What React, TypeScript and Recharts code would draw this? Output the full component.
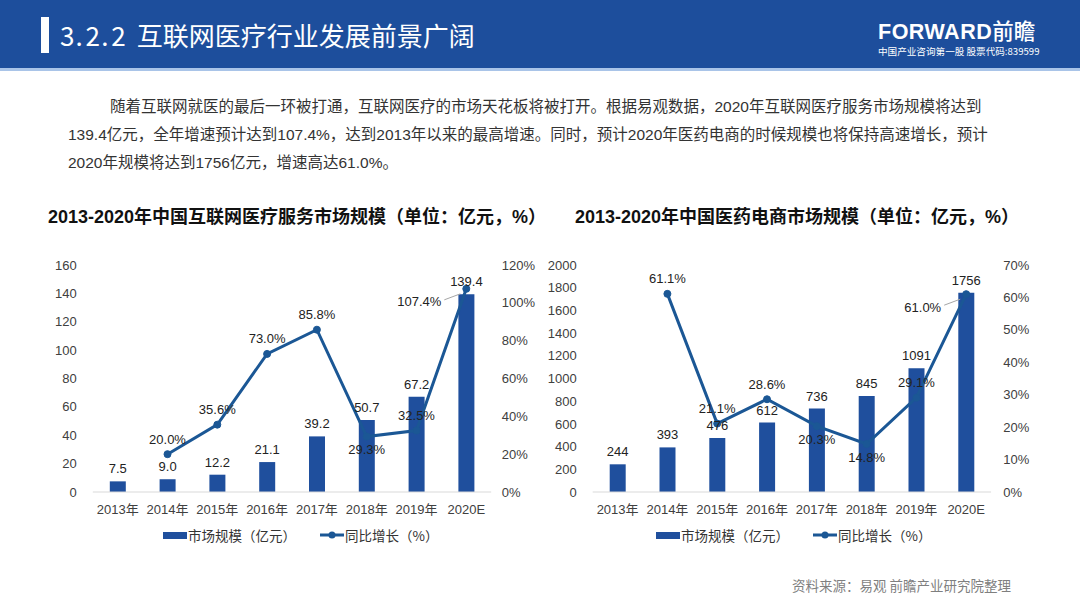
import React from 'react';
import { ComposedChart, Bar, Line, XAxis, YAxis, LabelList } from 'recharts';

// Categories shared by both charts
const years = ['2013年', '2014年', '2015年', '2016年', '2017年', '2018年', '2019年', '2020E'];

// 互联网医疗服务市场规模（亿元）与同比增长（%）
const serviceScale = [7.5, 9.0, 12.2, 21.1, 39.2, 50.7, 67.2, 139.4];
const serviceGrowth: (number | null)[] = [null, 20.0, 35.6, 73.0, 85.8, 29.3, 32.5, 107.4];
const serviceScaleTicks = [0, 20, 40, 60, 80, 100, 120, 140, 160];
const serviceGrowthTicks = [0, 20, 40, 60, 80, 100, 120];

// 医药电商市场规模（亿元）与同比增长（%）
const pharmaScale = [244, 393, 476, 612, 736, 845, 1091, 1756];
const pharmaGrowth: (number | null)[] = [null, 61.1, 21.1, 28.6, 20.3, 14.8, 29.1, 61.0];
const pharmaScaleTicks = [0, 200, 400, 600, 800, 1000, 1200, 1400, 1600, 1800, 2000];
const pharmaGrowthTicks = [0, 10, 20, 30, 40, 50, 60, 70];

const HEADER_BLUE = '#1d4e9c';
const BAR_BLUE = '#1f4f9d';
const LINE_BLUE = '#1b5795';
const FONT = "'Liberation Sans', Arial, 'Noto Sans CJK SC', sans-serif";
const CJK_FONT = "'Noto Sans CJK SC', 'Liberation Sans', sans-serif";

type ChartCfg = {
  left: number;
  scale: number[];
  growth: (number | null)[];
  scaleTicks: number[];
  growthTicks: number[];
  decimals: number;
  margin: { top: number; right: number; bottom: number; left: number };
  leftTickMargin: number;
  rightTickMargin: number;
  below: string[];
  aside: string[];
};

const serviceCfg: ChartCfg = {
  left: 0,
  scale: serviceScale,
  growth: serviceGrowth,
  scaleTicks: serviceScaleTicks,
  growthTicks: serviceGrowthTicks,
  decimals: 1,
  margin: { top: 25, right: 8.8, bottom: 8, left: 32.8 },
  leftTickMargin: 10,
  rightTickMargin: 4.5,
  below: ['2018年'],
  aside: ['2020E'],
};

const pharmaCfg: ChartCfg = {
  left: 520,
  scale: pharmaScale,
  growth: pharmaGrowth,
  scaleTicks: pharmaScaleTicks,
  growthTicks: pharmaGrowthTicks,
  decimals: 0,
  margin: { top: 25, right: 28.9, bottom: 8, left: 12.7 },
  leftTickMargin: 10,
  rightTickMargin: 6.2,
  below: ['2017年', '2018年'],
  aside: ['2020E'],
};

const num = (v: any) => (typeof v === 'number' ? v : Number(v));

function MarketChart({ cfg }: { cfg: ChartCfg }) {
  const data = years.map((year, i) => ({ year, scale: cfg.scale[i], growth: cfg.growth[i] }));
  const scaleMax = cfg.scaleTicks[cfg.scaleTicks.length - 1];
  const growthMax = cfg.growthTicks[cfg.growthTicks.length - 1];

  const renderBarLabel = (p: any) => {
    const x = num(p.x ?? p.viewBox?.x);
    const y = num(p.y ?? p.viewBox?.y);
    const w = num(p.width ?? p.viewBox?.width);
    if (p.value == null || isNaN(x)) return null;
    return (
      <text x={x + w / 2} y={y - 12.5} dy="0.35em" textAnchor="middle" fontSize={13} fill="#222">
        {num(p.value).toFixed(cfg.decimals)}
      </text>
    );
  };

  const renderGrowthLabel = (p: any) => {
    const x = num(p.x ?? p.viewBox?.x);
    const y = num(p.y ?? p.viewBox?.y);
    if (p.value == null || isNaN(x) || isNaN(y)) return null;
    const cat = years[p.index];
    const text = `${num(p.value).toFixed(1)}%`;
    if (cfg.aside.includes(cat)) {
      return (
        <g>
          <line x1={x - 22} y1={y + 11} x2={x - 6} y2={y + 5} stroke="#a6a6a6" strokeWidth={1} />
          <text x={x - 25} y={y + 13} dy="0.35em" textAnchor="end" fontSize={13} fill="#222">
            {text}
          </text>
        </g>
      );
    }
    const below = cfg.below.includes(cat);
    return (
      <text x={x} y={below ? y + 13 : y - 15} dy="0.35em" textAnchor="middle" fontSize={13} fill="#222">
        {text}
      </text>
    );
  };

  return (
    <div style={{ position: 'absolute', left: cfg.left, top: 240, fontFamily: FONT }}>
      <ComposedChart width={560} height={290} data={data} margin={cfg.margin}>
        <XAxis
          dataKey="year"
          height={30}
          interval={0}
          tickLine={false}
          axisLine={{ stroke: '#d9d9d9' }}
          tickMargin={6.4}
          tick={{ fill: '#404040', fontSize: 13 }}
        />
        <YAxis
          yAxisId="scale"
          orientation="left"
          width={60}
          domain={[0, scaleMax]}
          ticks={cfg.scaleTicks}
          interval={0}
          axisLine={false}
          tickLine={false}
          tickMargin={cfg.leftTickMargin}
          tick={{ fill: '#404040', fontSize: 13 }}
        />
        <YAxis
          yAxisId="growth"
          orientation="right"
          width={60}
          domain={[0, growthMax]}
          ticks={cfg.growthTicks}
          interval={0}
          axisLine={false}
          tickLine={false}
          tickMargin={cfg.rightTickMargin}
          tickFormatter={(v: number) => `${v}%`}
          tick={{ fill: '#404040', fontSize: 13, textAnchor: 'start' }}
        />
        <Bar yAxisId="scale" dataKey="scale" fill={BAR_BLUE} barSize={16} isAnimationActive={false}>
          <LabelList dataKey="scale" content={renderBarLabel} />
        </Bar>
        <Line
          yAxisId="growth"
          type="linear"
          dataKey="growth"
          stroke={LINE_BLUE}
          strokeWidth={3}
          dot={{ r: 3.5, fill: LINE_BLUE, stroke: LINE_BLUE, strokeWidth: 1 }}
          activeDot={false}
          isAnimationActive={false}
        >
          <LabelList dataKey="growth" content={renderGrowthLabel} />
        </Line>
      </ComposedChart>
    </div>
  );
}

function ChartLegend({ left }: { left: number }) {
  const text: React.CSSProperties = { fontSize: 13.5, color: '#333', fontFamily: CJK_FONT, whiteSpace: 'nowrap' };
  return (
    <div style={{ position: 'absolute', left, top: 525, height: 20, display: 'flex', alignItems: 'center' }}>
      <div style={{ width: 24, height: 7, background: BAR_BLUE, marginRight: 1 }} />
      <span style={text}>市场规模（亿元）</span>
      <svg width={24} height={10} style={{ marginLeft: 24, marginRight: 1 }}>
        <line x1={0} y1={5} x2={24} y2={5} stroke={LINE_BLUE} strokeWidth={3} />
        <circle cx={12} cy={5} r={3.5} fill={LINE_BLUE} />
      </svg>
      <span style={text}>同比增长（%）</span>
    </div>
  );
}

const abs = (left: number, top: number, extra: React.CSSProperties = {}): React.CSSProperties => ({
  position: 'absolute',
  left,
  top,
  whiteSpace: 'nowrap',
  ...extra,
});

export default function App() {
  const para: React.CSSProperties = { fontSize: 15.5, lineHeight: '20px', color: '#333', fontFamily: FONT };
  const chartTitle: React.CSSProperties = { fontSize: 18, lineHeight: '22px', fontWeight: 700, color: '#111', fontFamily: FONT };
  return (
    <div style={{ position: 'absolute', left: 0, top: 0, width: 1080, height: 607, background: '#fff', overflow: 'hidden', fontFamily: FONT }}>
      {/* header band */}
      <div style={{ position: 'absolute', left: 0, top: 0, width: 1080, height: 68, background: HEADER_BLUE }} />
      <div style={{ position: 'absolute', left: 0, top: 68, width: 1080, height: 3, background: '#a9c4e8' }} />
      <div style={{ position: 'absolute', left: 41, top: 17, width: 8, height: 36, background: '#fff' }} />
      <div style={abs(60, 19, { fontSize: 26, lineHeight: '32px', color: '#fff', fontFamily: CJK_FONT, display: 'flex' })}>
        {'3.2.2 '.split('').map((ch, i) => (
          <span key={i} style={{ display: 'inline-block', width: 12.8, textAlign: 'center' }}>{ch}</span>
        ))}
        <span>互联网医疗行业发展前景广阔</span>
      </div>
      <div style={abs(878, 18, { fontSize: 21.5, lineHeight: '24px', color: '#fff', fontWeight: 700, fontFamily: FONT, letterSpacing: 0.5 })}>
        FORWARD<span style={{ fontFamily: CJK_FONT, fontWeight: 500, letterSpacing: 0 }}>前瞻</span>
      </div>
      <div style={abs(878, 45, { fontSize: 9.6, lineHeight: '12px', color: '#fff', fontFamily: CJK_FONT })}>
        中国产业咨询第一股 股票代码:839599
      </div>

      {/* intro paragraph */}
      <div style={abs(110, 97, para)}>
        随着互联网就医的最后一环被打通，互联网医疗的市场天花板将被打开。根据易观数据，2020年互联网医疗服务市场规模将达到
      </div>
      <div style={abs(68, 125, para)}>
        139.4亿元，全年增速预计达到107.4%，达到2013年以来的最高增速。同时，预计2020年医药电商的时候规模也将保持高速增长，预计
      </div>
      <div style={abs(68, 153, para)}>2020年规模将达到1756亿元，增速高达61.0%。</div>

      {/* chart titles */}
      <div style={abs(48, 206, chartTitle)}>2013-2020年中国互联网医疗服务市场规模（单位：亿元，%）</div>
      <div style={abs(575, 206, chartTitle)}>2013-2020年中国医药电商市场规模（单位：亿元，%）</div>

      <MarketChart cfg={serviceCfg} />
      <MarketChart cfg={pharmaCfg} />
      <ChartLegend left={163} />
      <ChartLegend left={656} />

      <div style={abs(792, 576, { fontSize: 13.5, lineHeight: '18px', color: '#7f7f7f', fontFamily: CJK_FONT })}>
        资料来源：易观 前瞻产业研究院整理
      </div>
    </div>
  );
}
